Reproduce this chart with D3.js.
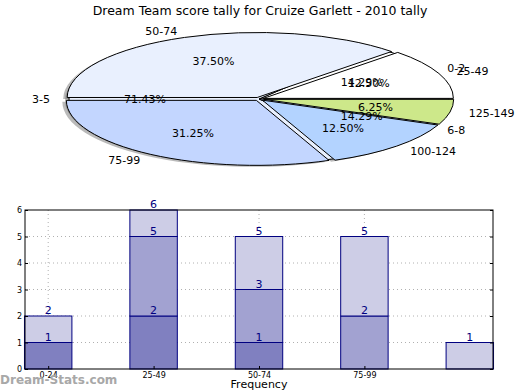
<!DOCTYPE html>
<html>
<head>
<meta charset="utf-8">
<script src="https://cdn.jsdelivr.net/npm/d3@7/dist/d3.min.js"></script>
<style>
  body { margin: 0; background: #fff; }
  svg { display: block; font-family: "DejaVu Sans", sans-serif; }
</style>
</head>
<body>
<svg id="chart" width="520" height="390"></svg>
<script>
const title = "Dream Team score tally for Cruize Garlett - 2010 tally";

// pie: two overlaid pies (ranges of score and ranges of counts)
const innerCats = ["0-2", "3-5", "6-8"];
const innerCounts = [1, 5, 1];
const outerCats = ["25-49", "50-74", "75-99", "100-124", "125-149"];
const outerCounts = [2, 6, 5, 2, 1];
const pieColors = ["#ffffff", "#e9f0fe", "#c3d6ff", "#b3d3ff", "#cde88a"];

// bars
const barCats = ["0-24", "25-49", "50-74", "75-99", "100-124"];
const tickLabels = ["0-24", "25-49", "50-74", "75-99"];
const seriesKeys = ["low", "mid", "high"];
const lowVals = [1, 2, 1, 0, 0];
const midVals = [0, 3, 2, 2, 0];
const highVals = [1, 1, 2, 3, 1];
const barColors = ["#8080c0", "#a2a2d1", "#cdcde6"];
const yTicks = [0, 1, 2, 3, 4, 5, 6];

const svg = d3.select("#chart");

svg.append("text")
  .attr("x", 260).attr("y", 15)
  .attr("text-anchor", "middle")
  .style("font-size", "12.5px")
  .attr("fill", "#000")
  .text(title);

// ---- pie ----
const cx = 259, cy = 99, rx = 190, ry = 65;
const arc = d3.arc().innerRadius(0).outerRadius(rx);
// matplotlib style: start at east, go counter-clockwise
const pieGen = d3.pie().sort(null).startAngle(Math.PI / 2).endAngle(Math.PI / 2 - 2 * Math.PI);

const pieG = svg.append("g").attr("transform", `translate(${cx},${cy})`);
const shadowLayer = pieG.append("g");
const wedgeLayer = pieG.append("g");
const labelLayer = pieG.append("g");

function pt(a, r) {
  // d3 angle -> pixel position on the ellipse
  return [Math.sin(a) * r * rx, -Math.cos(a) * r * ry];
}

function drawPie(cats, counts, explode) {
  const arcs = pieGen(counts);
  const total = d3.sum(counts);
  const g = wedgeLayer.append("g");

  // shadow
  arcs.forEach(d => {
    const mid = (d.startAngle + d.endAngle) / 2;
    const [ox, oy] = pt(mid, explode);
    shadowLayer.append("path")
      .attr("transform", `translate(${ox - 4},${oy + 1.5}) scale(1,${ry / rx})`)
      .attr("d", arc(d))
      .attr("fill", "#666")
      .attr("opacity", 0.45);
  });

  arcs.forEach((d, i) => {
    const mid = (d.startAngle + d.endAngle) / 2;
    const [ox, oy] = pt(mid, explode);
    g.append("path")
      .attr("transform", `translate(${ox},${oy}) scale(1,${ry / rx})`)
      .attr("d", arc(d))
      .attr("fill", pieColors[i])
      .attr("stroke", "#000")
      .attr("stroke-width", 1)
      .attr("vector-effect", "non-scaling-stroke");
  });

  arcs.forEach((d, i) => {
    const mid = (d.startAngle + d.endAngle) / 2;
    const [lx, ly] = pt(mid, 1.1 + explode);
    const [px, py] = pt(mid, 0.6 + explode);
    labelLayer.append("text")
      .attr("x", lx).attr("y", ly)
      .attr("dy", "0.35em")
      .attr("text-anchor", lx < 0 ? "end" : "start")
      .style("font-size", "11px")
      .text(cats[i]);
    labelLayer.append("text")
      .attr("x", px).attr("y", py)
      .attr("dy", "0.35em")
      .attr("text-anchor", "middle")
      .style("font-size", "11px")
      .text((counts[i] / total * 100).toFixed(2) + "%");
  });
}

drawPie(innerCats, innerCounts, 0);
drawPie(outerCats, outerCounts, 0.025);

// ---- stacked bars ----
const margin = { left: 25, top: 210, right: 493, bottom: 369 };
const x = d3.scaleLinear().domain([-0.22, 4.22]).range([margin.left, margin.right]);
const y = d3.scaleLinear().domain([0, 6]).range([margin.bottom, margin.top]);
const barW = 0.45;

const rows = barCats.map((c, i) => ({ idx: i, cat: c, low: lowVals[i], mid: midVals[i], high: highVals[i] }));
const stacked = d3.stack().keys(seriesKeys)(rows);

const bg = svg.append("g");

// grid
bg.selectAll(".hgrid").data(yTicks.slice(1, -1)).join("line")
  .attr("x1", margin.left).attr("x2", margin.right)
  .attr("y1", d => y(d)).attr("y2", d => y(d))
  .attr("stroke", "#b0b0b0").attr("stroke-dasharray", "1,3");
bg.selectAll(".vgrid").data(tickLabels).join("line")
  .attr("x1", (d, i) => x(i)).attr("x2", (d, i) => x(i))
  .attr("y1", margin.top).attr("y2", margin.bottom)
  .attr("stroke", "#b0b0b0").attr("stroke-dasharray", "1,3");

stacked.forEach((s, si) => {
  const segs = s.filter(d => d[1] > d[0]);
  bg.append("g").selectAll("rect").data(segs).join("rect")
    .attr("x", d => x(d.data.idx - barW / 2))
    .attr("width", x(barW) - x(0))
    .attr("y", d => y(d[1]))
    .attr("height", d => y(d[0]) - y(d[1]))
    .attr("fill", barColors[si])
    .attr("stroke", "#000080")
    .attr("stroke-width", 1);
});

stacked.forEach(s => {
  s.forEach(d => {
    if (d[1] <= d[0]) return;
    bg.append("text")
      .attr("x", x(d.data.idx)).attr("y", y(d[1]) - 2)
      .attr("text-anchor", "middle")
      .style("font-size", "11px")
      .attr("fill", "#000080")
      .text(d[1]);
  });
});

// frame
bg.append("rect")
  .attr("x", margin.left).attr("y", margin.top)
  .attr("width", margin.right - margin.left)
  .attr("height", margin.bottom - margin.top)
  .attr("fill", "none").attr("stroke", "#000");

// y axis
const yAxis = bg.append("g").attr("transform", `translate(${margin.left},0)`)
  .call(d3.axisLeft(y).tickValues(yTicks).tickFormat(d3.format("d")).tickSize(-3).tickPadding(3));
yAxis.select(".domain").remove();
yAxis.selectAll("text").style("font-size", "8px").style("font-family", "DejaVu Sans");

const yAxisR = bg.append("g").attr("transform", `translate(${margin.right},0)`)
  .call(d3.axisRight(y).tickValues(yTicks).tickSize(-3).tickFormat(""));
yAxisR.select(".domain").remove();

// x axis
const xAxis = bg.append("g").attr("transform", `translate(0,${margin.bottom})`)
  .call(d3.axisBottom(x).tickValues(d3.range(tickLabels.length))
    .tickFormat(i => tickLabels[i]).tickSize(-3).tickPadding(3));
xAxis.select(".domain").remove();
xAxis.selectAll("text").style("font-size", "8px").style("font-family", "DejaVu Sans");

svg.append("text")
  .attr("x", x(2)).attr("y", 388)
  .attr("text-anchor", "middle")
  .style("font-size", "11px")
  .text("Frequency");

svg.append("text")
  .attr("x", 0).attr("y", 384)
  .style("font-size", "12px")
  .style("font-weight", "bold")
  .attr("fill", "#a8a8a8")
  .text("Dream-Stats.com");
</script>
</body>
</html>
